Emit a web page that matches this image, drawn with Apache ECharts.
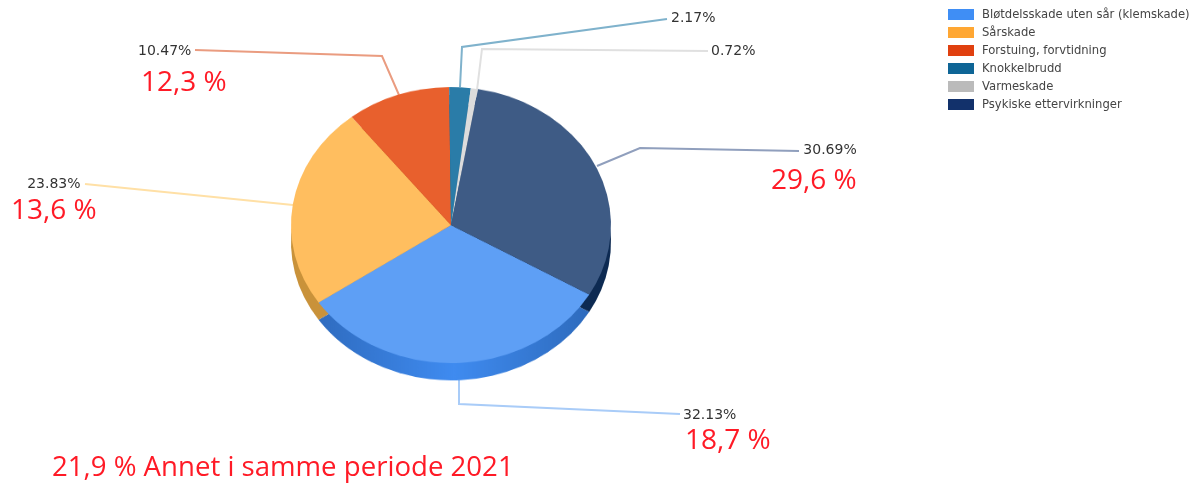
<!DOCTYPE html>
<html>
<head>
<meta charset="utf-8">
<script src="https://cdn.jsdelivr.net/npm/echarts@6/dist/echarts.min.js"></script>
<style>
    html, body { margin: 0; padding: 0; background: #fff; overflow: hidden; }
    #labels { position: absolute; left: 0; top: 0; width: 1201px; height: 485px; }
    /* the pie is drawn as a circle, then flattened to look tilted */
    #pie { position: absolute; left: 0; top: 0; width: 1201px; height: 562px; transform: scaleY(0.8625); transform-origin: 0 0; pointer-events: none; }
</style>
</head>
<body>
<div id="labels"></div>
<div id="pie"></div>
<script>
const categories = ['Bløtdelsskade uten sår (klemskade)', 'Sårskade', 'Forstuing, forvtidning', 'Knokkelbrudd', 'Varmeskade', 'Psykiske ettervirkninger']
const shares = [32.13, 23.83, 10.47, 2.17, 0.72, 30.69]
const shares2021 = ['18,7 %', '13,6 %', '12,3 %', null, null, '29,6 %']
const otherText = '21,9 % Annet i samme periode 2021'

const legendColors = ['#3f8ef5', '#ffa733', '#e0400f', '#0e6596', '#bbbbbb', '#12316b']
const topColors = ['#5e9ff5', '#ffbe5f', '#e8602d', '#2a7ca8', '#dcdcdc', '#3e5b85']
const lineColors = ['#a9ccf8', '#ffe0a6', '#ea9c80', '#7fb2cc', '#e0e0e0', '#909fbd']
const redText = '#ff1a26'

const startAngle = -30.2

// label anchor and leader line for each slice
const labelSpots = [
    { x: 683, y: 408, align: 'left', redHeight: 36, redLeft: 2, line: [[459, 380], [459, 404], [680, 414]] },
    { x: 11, y: 177, align: 'center', redHeight: 38, redLeft: 0, line: [[293, 205], [85, 184]] },
    { x: 138, y: 44, align: 'left', redHeight: 48, redLeft: 3, line: [[399, 95], [382, 56], [195, 50]] },
    { x: 671, y: 11, align: 'left', redHeight: 38, redLeft: 0, line: [[460, 87], [462, 47], [667, 19]] },
    { x: 711, y: 44, align: 'left', redHeight: 38, redLeft: 0, line: [[477, 90], [482, 49], [708, 51]] },
    { x: 771, y: 143, align: 'right', redHeight: 46, redLeft: 0, line: [[597, 166], [640, 148], [799, 151]] }
]

let sideColors = [
    new echarts.graphic.LinearGradient(0, 0, 1, 0, [
        { offset: 0, color: '#2f6cc0' },
        { offset: 0.5, color: '#3f8bf0' },
        { offset: 1, color: '#2e6bbd' }
    ]),
    '#c9923a', '#b8481f', '#1c5c80', '#a8a8a8', '#0d2a52'
]

let pieData = function (colors) {
    return categories.map(function (name, i) {
        return { name: name, value: shares[i], itemStyle: { color: colors[i] } }
    })
}

let labelChart = echarts.init(document.querySelector('#labels'))
labelChart.setOption({
    animation: false,
    legend: {
        data: categories,
        orient: 'vertical',
        icon: 'rect',
        left: 943,
        top: 3,
        itemWidth: 26,
        itemHeight: 11,
        itemGap: 5,
        selectedMode: false,
        textStyle: { fontFamily: 'DejaVu Sans', fontSize: 11.6, color: '#444', padding: [0, 0, 0, 3], lineHeight: 13 }
    },
    title: {
        text: otherText,
        left: 47,
        top: 449,
        textStyle: { fontFamily: 'Open Sans', fontSize: 27.6, fontWeight: 'normal', color: redText }
    },
    series: [{
        type: 'pie',
        center: [451, 225],
        radius: 130,
        startAngle: startAngle,
        silent: true,
        data: categories.map(function (name, i) {
            let spot = labelSpots[i]
            return {
                name: name,
                value: shares[i],
                itemStyle: { color: legendColors[i] },
                labelLine: { lineStyle: { color: lineColors[i], width: 2 } },
                label: {
                    formatter: shares2021[i] ? '{a|' + shares[i].toFixed(2) + '%}\n{b|' + shares2021[i] + '}' : '{a|' + shares[i].toFixed(2) + '%}',
                    rich: {
                        a: { fontFamily: 'DejaVu Sans', fontSize: 14, color: '#333', align: spot.align, lineHeight: 15 },
                        b: { fontFamily: 'Open Sans', fontSize: 28, color: redText, align: spot.align, lineHeight: spot.redHeight, padding: [0, 0, 0, spot.redLeft] }
                    }
                }
            }
        }),
        labelLine: { show: true },
        labelLayout: function (params) {
            let spot = labelSpots[params.dataIndex]
            return { x: spot.x, y: spot.y, align: 'left', verticalAlign: 'top', labelLinePoints: spot.line }
        }
    }]
})

let pieChart = echarts.init(document.querySelector('#pie'))
pieChart.setOption({
    animation: false,
    series: [
        {
            type: 'pie',
            center: [451, 281],
            radius: 160,
            startAngle: startAngle,
            silent: true,
            label: { show: false },
            labelLine: { show: false },
            data: pieData(sideColors)
        },
        {
            type: 'pie',
            center: [451, 261],
            radius: 160,
            startAngle: startAngle,
            silent: true,
            label: { show: false },
            labelLine: { show: false },
            data: pieData(topColors)
        }
    ]
})
</script>
</body>
</html>
